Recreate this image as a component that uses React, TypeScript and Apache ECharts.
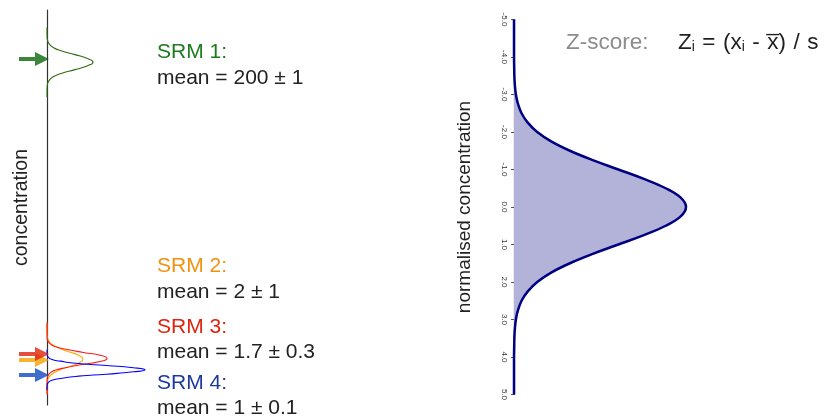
import React, { useEffect, useRef } from "react";
import * as echarts from "echarts";

// Right panel: standardised (z-score) axis and normalised density
const Z_VALUES = [
  "-5.0", "-4.75", "-4.5", "-4.25", "-4.0", "-3.75", "-3.5", "-3.25", "-3.0", "-2.75",
  "-2.5", "-2.25", "-2.0", "-1.75", "-1.5", "-1.25", "-1.0", "-0.75", "-0.5", "-0.25",
  "0.0", "0.25", "0.5", "0.75", "1.0", "1.25", "1.5", "1.75", "2.0", "2.25",
  "2.5", "2.75", "3.0", "3.25", "3.5", "3.75", "4.0", "4.25", "4.5", "4.75", "5.0",
];
const DENSITY = [
  0, 0, 0, 0, 0, 0.001, 0.002, 0.005, 0.011, 0.023,
  0.044, 0.08, 0.135, 0.216, 0.325, 0.458, 0.607, 0.755, 0.882, 0.969,
  1.0, 0.969, 0.882, 0.755, 0.607, 0.458, 0.325, 0.216, 0.135, 0.08,
  0.044, 0.023, 0.011, 0.005, 0.002, 0.001, 0, 0, 0, 0, 0,
];

// Left panel: [relative density, concentration position] for each SRM curve
const SRM1_CURVE = [
  [0, 78.0], [0.1, 80.3], [0.5, 81.2], [2.0, 82.1], [6.2, 83.1], [14.9, 84.0], [27.9, 84.9], [40.6, 85.9],
  [46, 86.8], [40.6, 87.7], [27.9, 88.7], [14.9, 89.6], [6.2, 90.5], [2.0, 91.5], [0.5, 92.4], [0.1, 93.3], [0, 95.6],
];
const SRM2_CURVE = [
  [0, 2.7], [0.1, 4.95], [0.4, 5.9], [1.6, 6.85], [4.9, 7.8], [11.7, 8.75], [21.8, 9.7], [31.8, 10.65],
  [36, 11.6], [31.8, 12.55], [21.8, 13.5], [11.7, 14.45], [4.9, 15.4], [1.6, 16.35], [0.4, 17.3], [0.1, 18.25], [0, 20.8],
];
const SRM3_CURVE = [
  [0, 2.7], [0.1, 6.5], [0.7, 7.2], [2.6, 8.0], [8.1, 8.8], [19.5, 9.5], [36.4, 10.3], [52.9, 11.0],
  [60, 11.8], [52.9, 12.6], [36.4, 13.3], [19.5, 14.1], [8.1, 14.8], [2.6, 15.6], [0.7, 16.4], [0.1, 17.1], [0, 20.9],
];
const SRM4_CURVE = [
  [0, 3.8], [0.2, 5.1], [1.1, 5.6], [4.3, 6.2], [13.3, 6.7], [31.8, 7.3], [59.4, 7.8], [86.5, 8.4],
  [98, 8.9], [86.5, 9.45], [59.4, 10.0], [31.8, 10.5], [13.3, 11.1], [4.3, 11.6], [1.1, 12.2], [0.2, 12.7], [0, 14.0],
];
// Arrow positions (concentration) for SRM 1..4
const ARROW_POS = [87.6, 11.4, 12.9, 7.6];

const SRM_TITLES = ["SRM 1:", "SRM 2:", "SRM 3:", "SRM 4:"];
const SRM_MEANS = ["mean = 200 ± 1", "mean = 2 ± 1", "mean = 1.7 ± 0.3", "mean = 1 ± 0.1"];

const FONT = "'Liberation Sans', Arial, Helvetica, sans-serif";
const TEXT_COLORS = ["#1e7a1e", "#f0920f", "#e0230e", "#1c3a9e"];
const CURVE_COLORS = ["#2f6a10", "#ffaa00", "#ff1a1a", "#0000ff"];
const ARROW_COLORS = ["#0b660b", "#f5a300", "#e0200a", "#1048c0"];
const TITLE_Y = [50, 264, 325, 381];
const MEAN_Y = [76, 290, 350, 406];

const ARROW_PATH = "path://M0,5 L16,5 L16,0 L30,7 L16,14 L16,9 L0,9 Z";

export default function App() {
  const ref = useRef<HTMLDivElement>(null);
  useEffect(() => {
    if (!ref.current) return;
    const chart = echarts.init(ref.current, null, { renderer: "svg" });
    const curves = [SRM1_CURVE, SRM2_CURVE, SRM3_CURVE, SRM4_CURVE];
    const drawOrder = [0, 1, 2, 3];
    const texts: any[] = [];
    SRM_TITLES.forEach((t, i) => {
      texts.push({
        type: "text",
        style: { text: t, x: 157, y: TITLE_Y[i], fill: TEXT_COLORS[i], font: `21px ${FONT}`, verticalAlign: "middle" },
      });
      texts.push({
        type: "text",
        style: { text: SRM_MEANS[i], x: 157, y: MEAN_Y[i], fill: "#222", font: `21px ${FONT}`, verticalAlign: "middle" },
      });
    });
    texts.push({
      type: "text",
      style: { text: "Z-score:", x: 566, y: 41, fill: "#8c8c8c", font: `22.5px ${FONT}`, verticalAlign: "middle" },
    });
    const sp = "\u2004";
    texts.push({
      type: "text",
      style: {
        text: `Z{s|i}${sp}=${sp}(x{s|i}${sp}-${sp}x\u0305)${sp}/${sp}s`,
        x: 678,
        y: 41,
        fill: "#1f1f1f",
        font: `22.5px ${FONT}`,
        verticalAlign: "middle",
        rich: {
          s: { fontSize: 14, fontFamily: FONT, fill: "#1f1f1f", verticalAlign: "bottom" },
        },
      },
    });

    chart.setOption({
      animation: false,
      grid: [
        { left: 47, top: 10, width: 120, height: 395 },
        { left: 514, top: 19.5, width: 206.4, height: 375 },
      ],
      xAxis: [
        { type: "value", gridIndex: 0, min: 0, max: 120, show: false },
        { type: "value", gridIndex: 1, min: 0, max: 1.2, show: false },
      ],
      yAxis: [
        {
          type: "value",
          gridIndex: 0,
          min: 0,
          max: 100,
          name: "concentration",
          nameLocation: "middle",
          nameGap: 17,
          nameRotate: 90,
          nameTextStyle: { fontSize: 19.5, fontFamily: FONT, color: "#222" },
          axisLine: { show: true, lineStyle: { color: "#333", width: 1.2 } },
          axisTick: { show: false },
          axisLabel: { show: false },
          splitLine: { show: false },
        },
        {
          type: "category",
          gridIndex: 1,
          inverse: true,
          boundaryGap: false,
          data: Z_VALUES,
          name: "normalised concentration",
          nameLocation: "middle",
          nameGap: 41,
          nameRotate: 90,
          nameTextStyle: { fontSize: 19, fontFamily: FONT, color: "#222" },
          axisLine: { show: true, lineStyle: { color: "#555", width: 1.2 } },
          axisTick: { show: true, length: 3, interval: (i: number) => i % 4 === 0, lineStyle: { color: "#555" } },
          axisLabel: {
            show: true,
            interval: (i: number) => i % 4 === 0,
            rotate: -90,
            margin: 6,
            fontSize: 8,
            fontFamily: FONT,
            color: "#333",
          },
          splitLine: { show: false },
        },
      ],
      graphic: texts,
      series: [
        ...drawOrder.map((i) => ({
          type: "line",
          xAxisIndex: 0,
          yAxisIndex: 0,
          data: curves[i],
          smooth: 0.6,
          showSymbol: false,
          clip: false,
          lineStyle: { color: CURVE_COLORS[i], width: 1.1 },
          z: 3,
        })),
        {
          type: "scatter",
          xAxisIndex: 0,
          yAxisIndex: 0,
          clip: false,
          symbol: ARROW_PATH,
          symbolSize: [30, 14],
          symbolOffset: [-13, 0],
          z: 4,
          data: ARROW_POS.map((p, i) => ({ value: [0, p], itemStyle: { color: ARROW_COLORS[i] } })),
        },
        {
          type: "line",
          xAxisIndex: 1,
          yAxisIndex: 1,
          data: DENSITY,
          smooth: 0.4,
          showSymbol: false,
          clip: false,
          lineStyle: { color: "#000080", width: 2.5 },
          areaStyle: { color: "#b3b3d9", opacity: 1 },
          z: 3,
        },
      ],
    });
    return () => chart.dispose();
  }, []);
  return <div ref={ref} style={{ position: "fixed", left: 0, top: 0, width: 835, height: 416 }} />;
}
